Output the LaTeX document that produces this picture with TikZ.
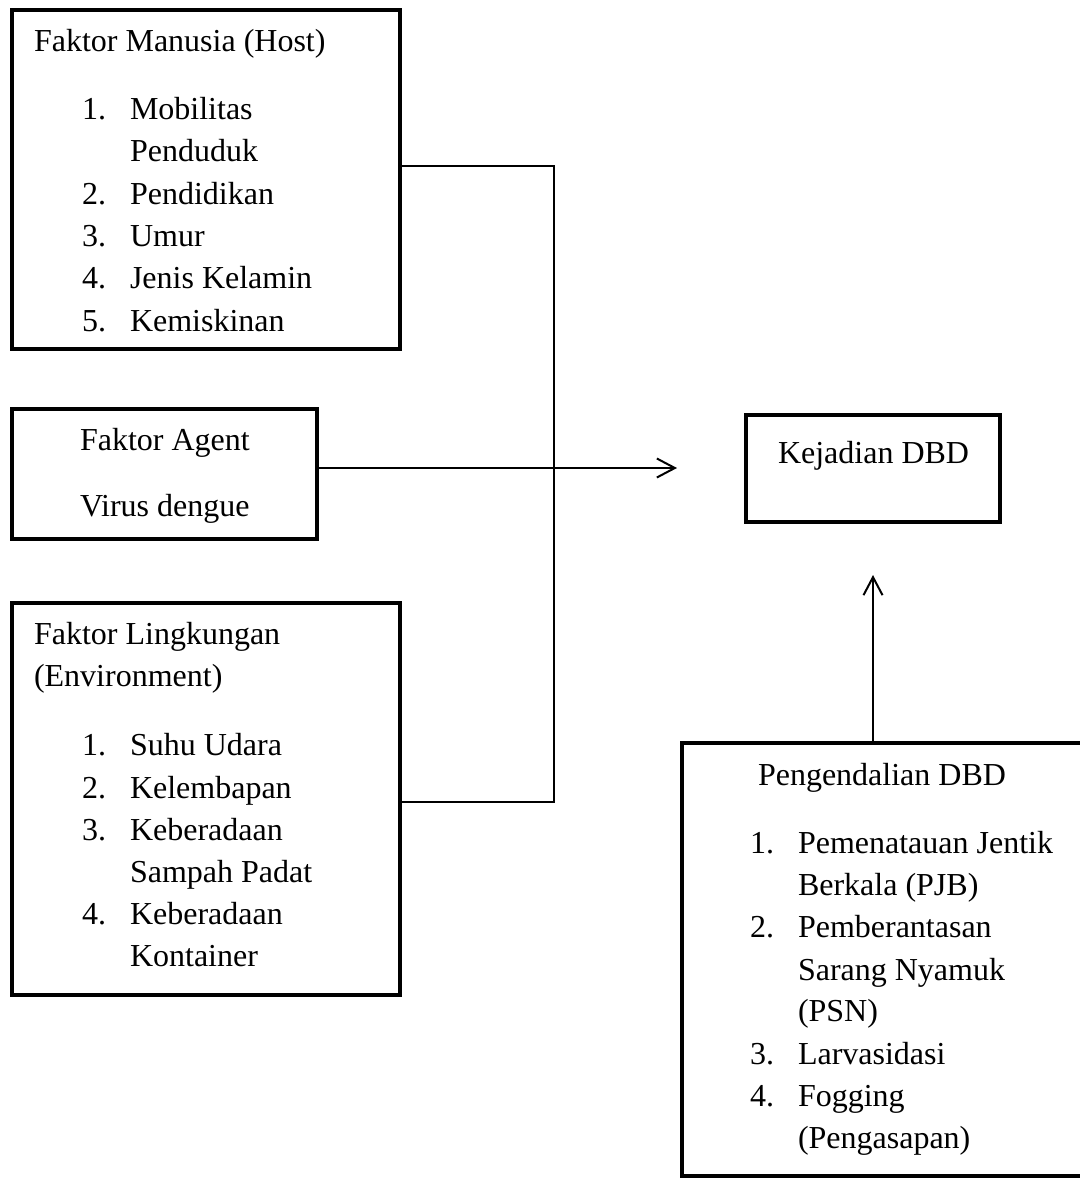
\documentclass[tikz,border=0pt]{standalone}
\usepackage{fontspec}
\setmainfont{Liberation Serif}
\usetikzlibrary{arrows.meta}
\begin{document}
\begin{tikzpicture}[x=0.5pt,y=-0.5pt,
  box/.style={draw, line width=2pt, rectangle, inner sep=0pt, outer sep=0pt, anchor=north west},
  txt/.style={anchor=base west, inner sep=0pt, outer sep=0pt, font=\fontsize{16}{21}\selectfont},
  conn/.style={line width=1pt},
  arr/.style={line width=1pt, -{Straight Barb[length=9pt,width=9.5pt,line width=1pt]}}]
\useasboundingbox (0,0) rectangle (1080,1178);
\clip (0,0) rectangle (1080,1178);
% boxes
\node[box, minimum width=194pt, minimum height=169.5pt] (host) at (12,10) {};
\node[box, minimum width=152.5pt, minimum height=65pt] (agent) at (12,409) {};
\node[box, minimum width=194pt, minimum height=196pt] (env) at (12,603) {};
\node[box, minimum width=127.25pt, minimum height=53.25pt] (kej) at (745.5,415) {};
\node[box, minimum width=210pt, minimum height=216.5pt] (peng) at (682,743) {};
% host texts
\node[txt] (h0) at (34,51.7) {Faktor Manusia (Host)};
\node[txt] (h1n) at (82,119.3) {1.};
\node[txt] (h1) at (130,119.3) {Mobilitas};
\node[txt] (h1b) at (130,161.7) {Penduduk};
\node[txt] (h2n) at (82,204) {2.};
\node[txt] (h2) at (130,204) {Pendidikan};
\node[txt] (h3n) at (82,246.4) {3.};
\node[txt] (h3) at (130,246.4) {Umur};
\node[txt] (h4n) at (82,288.8) {4.};
\node[txt] (h4) at (130,288.8) {Jenis Kelamin};
\node[txt] (h5n) at (82,331.2) {5.};
\node[txt] (h5) at (130,331.2) {Kemiskinan};
% agent texts
\node[txt] (a0) at (80,450) {Faktor Agent};
\node[txt] (a1) at (80,516.7) {Virus dengue};
% environment texts
\node[txt] (e0) at (34,644.3) {Faktor Lingkungan};
\node[txt] (e0b) at (34,686.7) {(Environment)};
\node[txt] (e1n) at (82,755.7) {1.};
\node[txt] (e1) at (130,755.7) {Suhu Udara};
\node[txt] (e2n) at (82,798.3) {2.};
\node[txt] (e2) at (130,798.3) {Kelembapan};
\node[txt] (e3n) at (82,840.7) {3.};
\node[txt] (e3) at (130,840.7) {Keberadaan};
\node[txt] (e3b) at (130,882.7) {Sampah Padat};
\node[txt] (e4n) at (82,924.3) {4.};
\node[txt] (e4) at (130,924.3) {Keberadaan};
\node[txt] (e4b) at (130,966.7) {Kontainer};
% kejadian text
\node[txt] (k0) at (778,463.3) {Kejadian DBD};
% pengendalian texts
\node[txt] (p0) at (758,785) {Pengendalian DBD};
\node[txt] (p1n) at (750,853.3) {1.};
\node[txt] (p1) at (798,853.3) {Pemenatauan Jentik};
\node[txt] (p1b) at (798,895.7) {Berkala (PJB)};
\node[txt] (p2n) at (750,937.3) {2.};
\node[txt] (p2) at (798,937.3) {Pemberantasan};
\node[txt] (p2b) at (798,980) {Sarang Nyamuk};
\node[txt] (p2c) at (798,1021.7) {(PSN)};
\node[txt] (p3n) at (750,1064.3) {3.};
\node[txt] (p3) at (798,1064.3) {Larvasidasi};
\node[txt] (p4n) at (750,1106.7) {4.};
\node[txt] (p4) at (798,1106.7) {Fogging};
\node[txt] (p4b) at (798,1148.3) {(Pengasapan)};
% connectors
\coordinate (j1) at (554,166);
\coordinate (j2) at (554,802);
\coordinate (tipA) at (677,468);
\coordinate (tipB) at (873,575);
\draw[conn] (j1 -| host.east) -- (j1) -- (j2) -- (j2 -| env.east);
\draw[arr] (tipA -| agent.east) -- (tipA);
\draw[arr] (tipB |- peng.north) -- (tipB);
\end{tikzpicture}
\end{document}
